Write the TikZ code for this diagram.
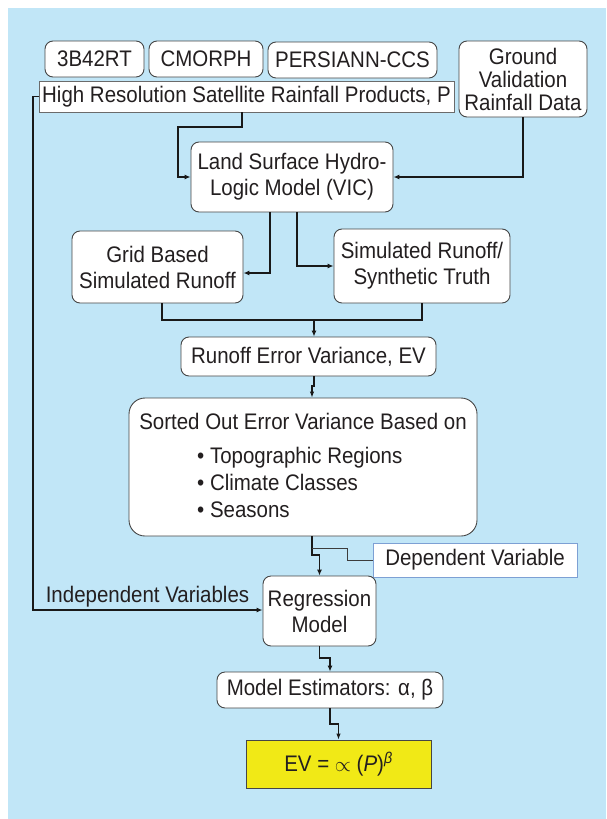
\documentclass[tikz,border=0pt]{standalone}
\usepackage{fontspec}
\setmainfont{Liberation Sans}[FakeStretch=0.91]
\usetikzlibrary{arrows.meta}
\definecolor{bgblue}{RGB}{193,230,247}
\definecolor{evyellow}{RGB}{241,233,22}
\definecolor{boxline}{RGB}{70,70,70}
\definecolor{connc}{RGB}{25,25,25}
\definecolor{depline}{RGB}{125,160,212}
\definecolor{txt}{RGB}{35,31,32}
\newcommand\mainsz{\fontsize{22.5}{26}\selectfont}
\begin{document}
\begin{tikzpicture}[x=1pt,y=-1pt,
  rbox/.style={draw=boxline, fill=white, line width=0.9pt, rounded corners=8pt, inner sep=0pt, align=center, text=txt, font=\mainsz},
  sbox/.style={rbox, rounded corners=0pt},
  thickconn/.style={draw=connc, line width=1.9pt, -{Latex[length=6pt,width=5pt]}},
  thinconn/.style={draw=connc, line width=1.1pt, -{Latex[length=6pt,width=4.5pt]}},
  plainthick/.style={draw=connc, line width=1.9pt},
  plainthin/.style={draw=connc!85, line width=1pt},
  lbl/.style={text=txt, font=\mainsz, inner sep=0pt}
]
\fill[white] (0,0) rectangle (606,819);
\fill[bgblue] (8,8) rectangle (606,819);
\useasboundingbox (0,0) rectangle (606,819);

\node[rbox, minimum width=99pt, minimum height=36pt] (b3) at (94.5,59) {3B42RT};
\node[rbox, minimum width=114pt, minimum height=36pt] (cm) at (206,59) {CMORPH};
\node[rbox, minimum width=169pt, minimum height=36pt] (pe) at (352.5,60) {PERSIANN-CCS};
\node[sbox, draw=boxline!80, minimum width=415pt, minimum height=31pt] (hr) at (246.5,96.5) {High Resolution Satellite Rainfall Products, P};
\node[rbox, font={\fontsize{22.5}{23}\selectfont}, minimum width=128pt, minimum height=76pt] (gv) at (523,79) {Ground\\Validation\\Rainfall Data};
\node[rbox, minimum width=202pt, minimum height=70pt] (ls) at (292,177) {Land Surface Hydro-\\Logic Model (VIC)};
\node[rbox, minimum width=171pt, minimum height=72pt] (gb) at (157.5,267) {Grid Based\\Simulated Runoff};
\node[rbox, minimum width=176pt, minimum height=74pt] (sr) at (422,266) {Simulated Runoff/\\Synthetic Truth};
\node[rbox, minimum width=255pt, minimum height=39pt] (ev) at (308.5,356.5) {Runoff Error Variance, EV};
\node[rbox, rounded corners=16pt, minimum width=348pt, minimum height=138pt] (so) at (303,467) {};
\node[lbl, anchor=base] (soh) at (303,429) {Sorted Out Error Variance Based on};
\node[lbl, anchor=base west] (so1) at (197,463) {• Topographic Regions};
\node[lbl, anchor=base west] (so2) at (197,490) {• Climate Classes};
\node[lbl, anchor=base west] (so3) at (197,517) {• Seasons};
\node[sbox, draw=depline, line width=1pt, minimum width=204pt, minimum height=34pt] (dv) at (475,560) {Dependent Variable};
\node[rbox, minimum width=113pt, minimum height=70pt] (rm) at (319.5,611) {Regression\\Model};
\node[rbox, minimum width=226pt, minimum height=36pt] (me) at (330,690) {Model Estimators: α, β};
\node[sbox, fill=evyellow, minimum width=185pt, minimum height=48pt] (eq) at (338.5,764) {EV = $\propto$ (\textit{P})\textsuperscript{\textit{β}}};
\node[lbl, anchor=base] (iv) at (147.5,602) {Independent Variables};

\coordinate (j1) at (178,127);
\draw[thickconn] ([xshift=-4.5pt]hr.south) |- (j1) |- (ls.west);
\draw[thickconn] (gv.south) |- (ls.east);
\draw[thickconn] ([xshift=-22pt]ls.south) |- ([yshift=-6pt]gb.east);
\draw[thickconn] ([xshift=5pt]ls.south) |- (sr.west);
\coordinate (j2) at (314,320);
\draw[plainthick] ([xshift=4.5pt]gb.south) |- (j2) -| (sr.south);
\draw[thickconn] (j2) -- ([xshift=5.5pt]ev.north);
\coordinate (j3) at (313,386);
\draw[thinconn] ([xshift=5.5pt]ev.south) |- (j3) -| ([xshift=9pt]so.north);
\coordinate (j4) at (319.5,555);
\draw[thickconn] ([xshift=9pt]so.south) |- (j4) -| (rm.north);
\coordinate (j5) at (347,548);
\coordinate (j6) at (312,548);
\draw[plainthin] (dv.west) -| (j5) -- (j6);
\coordinate (j7) at (33,300);
\draw[thickconn] (hr.west) -| (j7) |- ([yshift=1pt]rm.west);
\coordinate (j8) at (330,658);
\draw[thickconn] (rm.south) |- (j8) -| (me.north);
\coordinate (j9) at (338.5,724);
\draw[thinconn] (me.south) |- (j9) -| (eq.north);
\end{tikzpicture}
\end{document}
